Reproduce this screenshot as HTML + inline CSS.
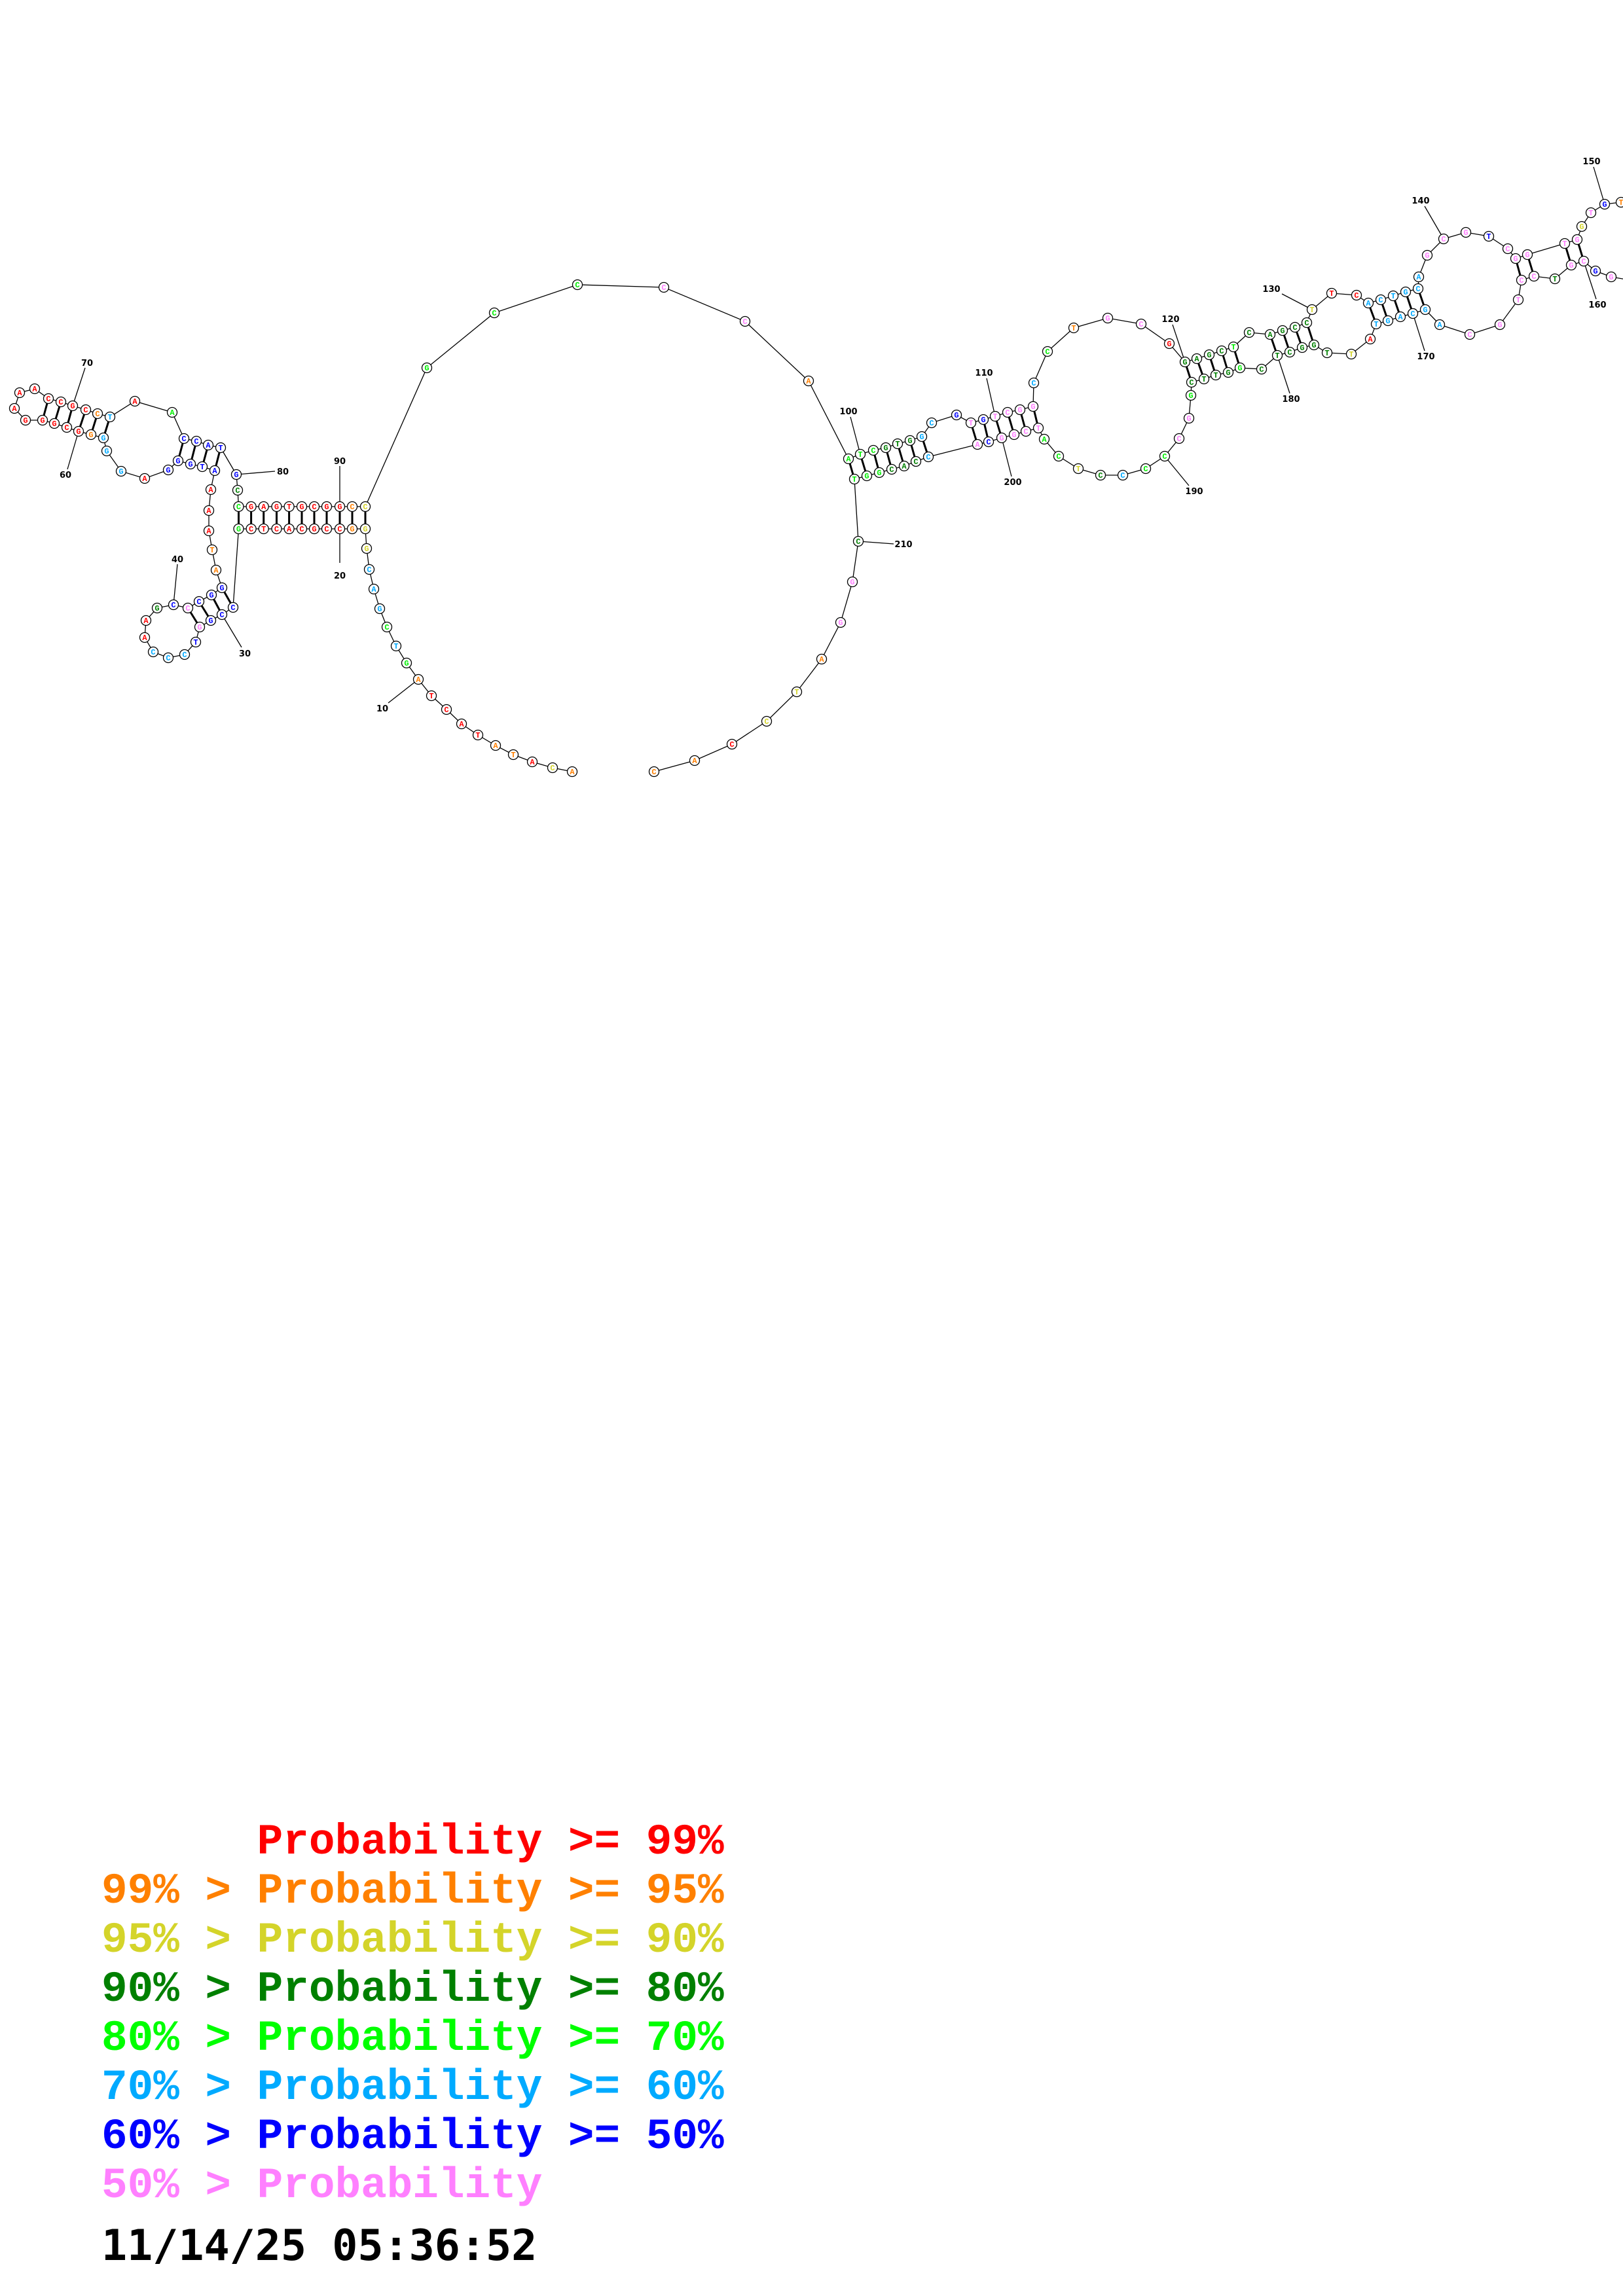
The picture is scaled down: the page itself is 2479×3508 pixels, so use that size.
<!DOCTYPE html>
<html><head><meta charset="utf-8"><style>
html,body{margin:0;padding:0;background:#fff;}
svg{display:block;}
.n circle{fill:#fff;stroke:#000;stroke-width:1.3;}
.n text{font-family:"Liberation Mono",monospace;font-weight:bold;font-size:12px;text-anchor:middle;}
.r{fill:#ff0000}.o{fill:#ff8000}.y{fill:#d4d42a}.d{fill:#008000}.g{fill:#00ee00}.c{fill:#00aaff}.b{fill:#0000ff}.p{fill:#ff80ff}
.lb{font-family:"DejaVu Sans",sans-serif;font-weight:bold;font-size:13px;text-anchor:middle;fill:#000;}
.lg{font-family:"Liberation Mono",monospace;font-weight:bold;font-size:66px;}
</style></head><body>
<svg width="2479" height="3508" viewBox="0 0 2479 3508" xmlns="http://www.w3.org/2000/svg">
<g fill="none" stroke="#000" stroke-width="1.3">
<polyline points="874,1179 844,1173 813,1164 784,1153 757,1139 730,1123 705,1106 682,1084 659,1063 639,1038 621,1013 605,987 591,958 580,930 571,900 564,870 560,838 558,808 538,808 519,808 499,808 480,808 461,808 441.6,808 422.5,808 402.7,808 383.6,808 364.5,808 356,928 339,939 322,948 305,958 299,981 282,1000 257,1005 234,996 221,974 223,948 240,929 265,924 287,929 304,919 323,909 339,898 330,871 324,840 319,811 319,780 322,748 328,719 309,713 291,709 272,704 257,718 221,731 185,720 163,689 158,669 139,664 120,659 102,653 83,647 65,642 39,642 22,624 30,600 53,594 74,609 93,614 111,620 131,626 149,632 168,637 206,613 263,630 281,670 300,674 318,680 337,684 361,725 363,749 364.5,774 383.6,774 402.7,774 422.5,774 441.6,774 461,774 480,774 499,774 519,774 538,774 558,774 652,562 755,478 882,435 1014,439 1138,491 1235,582 1296,701 1314,694 1334,688 1353,684 1371,678 1390,673 1408,667 1423,646 1461,634 1483,646 1502,641 1520,636 1539,630 1558,626 1578,621 1579,585 1600,537 1640,501 1692,486 1743,495 1786,525 1810,553 1828,548 1847,542 1866,536 1884,530 1908,508 1940,511 1959,505 1978,500 1996,493 2004,473 2034,448 2072,451 2090,463 2109,458 2128,452 2147,446 2166,441 2167,423 2180,390 2205,365 2239,355 2274,361 2303,380 2315,395 2333,389 2390,372 2409,366 2416,346 2430,325 2451,312 2476,309 2490,308"/>
<polyline points="2490,428 2461,423 2437,414 2419,399 2400,405 2375,426 2343,422 2324,428 2319,458 2291,496 2245,511 2199,496 2177,473 2158,479 2139,484 2120,490 2102,495 2093,518 2064,541 2027,539 2007,527 1989,531 1970,538 1951,543 1927,564 1894,562 1876,569 1857,573 1839,579 1820,584 1819,604 1816,639 1801,670 1779,697 1750,716 1715,726 1681,726 1647,716 1617,697 1595,671 1586,654 1567,659 1549,664 1530,669 1510,675 1493,679 1418,698 1399,705 1381,712 1362,717 1343,722 1324,727 1305,732 1311,827 1302,889 1284,951 1255,1007 1217,1057 1171,1102 1118,1137 1061,1162 999,1179"/>
<!-- number label lines -->
<path d="M639,1038L593,1074M519,808L519,860M339,939L369,989M265,924L271,862M120,659L103,717M111,620L130,562M361,725L420,720M519,774L519,712M1314,694L1299,637M1520,636L1507,578M1810,553L1791,496M2004,473L1958,449M2205,365L2176,315M2451,312L2434,255M2419,399L2438,457M2158,479L2176,536M1951,543L1970,601M1779,697L1816,742M1530,669L1545,728M1311,827L1365,831"/>
</g>
<g stroke="#000" stroke-width="3">
<path d="M558,808L558,774M538,808L538,774M519,808L519,774M499,808L499,774M480,808L480,774M461,808L461,774M441.6,808L441.6,774M422.5,808L422.5,774M402.7,808L402.7,774M383.6,808L383.6,774M364.5,808L364.5,774"/>
<path d="M339,898L356,928M323,909L339,939M304,919L322,948M287,929L305,958"/>
<path d="M328,719L337,684M309,713L318,680M291,709L300,674M272,704L281,670"/>
<path d="M74,609L65,642M93,614L83,647M111,620L102,653M131,626L120,659M149,632L139,664M168,637L158,669"/>
<path d="M1296,701L1305,732M1314,694L1324,727M1334,688L1343,722M1353,684L1362,717M1371,678L1381,712M1390,673L1399,705M1408,667L1418,698"/>
<path d="M1483,646L1493,679M1502,641L1510,675M1520,636L1530,669M1539,630L1549,664M1558,626L1567,659M1578,621L1586,654"/>
<path d="M1810,553L1820,584M1828,548L1839,579M1847,542L1857,573M1866,536L1876,569M1884,530L1894,562"/>
<path d="M1940,511L1951,543M1959,505L1970,538M1978,500L1989,531M1996,493L2007,527"/>
<path d="M2090,463L2102,495M2109,458L2120,490M2128,452L2139,484M2147,446L2158,479M2166,441L2177,473"/>
<path d="M2315,395L2324,428M2333,389L2343,422M2390,372L2400,405M2409,366L2419,399"/>
</g>
<g class="n">
<circle cx="874" cy="1179" r="7.5"/><text x="874" y="1183" class="o">A</text>
<circle cx="844" cy="1173" r="7.5"/><text x="844" y="1177" class="y">C</text>
<circle cx="813" cy="1164" r="7.5"/><text x="813" y="1168" class="r">A</text>
<circle cx="784" cy="1153" r="7.5"/><text x="784" y="1157" class="o">T</text>
<circle cx="757" cy="1139" r="7.5"/><text x="757" y="1143" class="o">A</text>
<circle cx="730" cy="1123" r="7.5"/><text x="730" y="1127" class="r">T</text>
<circle cx="705" cy="1106" r="7.5"/><text x="705" y="1110" class="r">A</text>
<circle cx="682" cy="1084" r="7.5"/><text x="682" y="1088" class="r">C</text>
<circle cx="659" cy="1063" r="7.5"/><text x="659" y="1067" class="r">T</text>
<circle cx="639" cy="1038" r="7.5"/><text x="639" y="1042" class="o">A</text>
<circle cx="621" cy="1013" r="7.5"/><text x="621" y="1017" class="g">G</text>
<circle cx="605" cy="987" r="7.5"/><text x="605" y="991" class="c">T</text>
<circle cx="591" cy="958" r="7.5"/><text x="591" y="962" class="g">C</text>
<circle cx="580" cy="930" r="7.5"/><text x="580" y="934" class="c">G</text>
<circle cx="571" cy="900" r="7.5"/><text x="571" y="904" class="c">A</text>
<circle cx="564" cy="870" r="7.5"/><text x="564" y="874" class="c">C</text>
<circle cx="560" cy="838" r="7.5"/><text x="560" y="842" class="y">G</text>
<circle cx="558" cy="808" r="7.5"/><text x="558" y="812" class="y">G</text>
<circle cx="538" cy="808" r="7.5"/><text x="538" y="812" class="o">G</text>
<circle cx="519" cy="808" r="7.5"/><text x="519" y="812" class="r">C</text>
<circle cx="499" cy="808" r="7.5"/><text x="499" y="812" class="r">C</text>
<circle cx="480" cy="808" r="7.5"/><text x="480" y="812" class="r">G</text>
<circle cx="461" cy="808" r="7.5"/><text x="461" y="812" class="r">C</text>
<circle cx="441.6" cy="808" r="7.5"/><text x="441.6" y="812" class="r">A</text>
<circle cx="422.5" cy="808" r="7.5"/><text x="422.5" y="812" class="r">C</text>
<circle cx="402.7" cy="808" r="7.5"/><text x="402.7" y="812" class="r">T</text>
<circle cx="383.6" cy="808" r="7.5"/><text x="383.6" y="812" class="r">C</text>
<circle cx="364.5" cy="808" r="7.5"/><text x="364.5" y="812" class="g">G</text>
<circle cx="356" cy="928" r="7.5"/><text x="356" y="932" class="b">C</text>
<circle cx="339" cy="939" r="7.5"/><text x="339" y="943" class="b">C</text>
<circle cx="322" cy="948" r="7.5"/><text x="322" y="952" class="b">G</text>
<circle cx="305" cy="958" r="7.5"/><text x="305" y="962" class="p">G</text>
<circle cx="299" cy="981" r="7.5"/><text x="299" y="985" class="b">T</text>
<circle cx="282" cy="1000" r="7.5"/><text x="282" y="1004" class="c">C</text>
<circle cx="257" cy="1005" r="7.5"/><text x="257" y="1009" class="c">C</text>
<circle cx="234" cy="996" r="7.5"/><text x="234" y="1000" class="c">C</text>
<circle cx="221" cy="974" r="7.5"/><text x="221" y="978" class="r">A</text>
<circle cx="223" cy="948" r="7.5"/><text x="223" y="952" class="r">A</text>
<circle cx="240" cy="929" r="7.5"/><text x="240" y="933" class="d">G</text>
<circle cx="265" cy="924" r="7.5"/><text x="265" y="928" class="b">C</text>
<circle cx="287" cy="929" r="7.5"/><text x="287" y="933" class="p">C</text>
<circle cx="304" cy="919" r="7.5"/><text x="304" y="923" class="b">C</text>
<circle cx="323" cy="909" r="7.5"/><text x="323" y="913" class="b">G</text>
<circle cx="339" cy="898" r="7.5"/><text x="339" y="902" class="b">G</text>
<circle cx="330" cy="871" r="7.5"/><text x="330" y="875" class="o">A</text>
<circle cx="324" cy="840" r="7.5"/><text x="324" y="844" class="o">T</text>
<circle cx="319" cy="811" r="7.5"/><text x="319" y="815" class="r">A</text>
<circle cx="319" cy="780" r="7.5"/><text x="319" y="784" class="r">A</text>
<circle cx="322" cy="748" r="7.5"/><text x="322" y="752" class="r">A</text>
<circle cx="328" cy="719" r="7.5"/><text x="328" y="723" class="b">A</text>
<circle cx="309" cy="713" r="7.5"/><text x="309" y="717" class="b">T</text>
<circle cx="291" cy="709" r="7.5"/><text x="291" y="713" class="b">G</text>
<circle cx="272" cy="704" r="7.5"/><text x="272" y="708" class="b">G</text>
<circle cx="257" cy="718" r="7.5"/><text x="257" y="722" class="b">G</text>
<circle cx="221" cy="731" r="7.5"/><text x="221" y="735" class="r">A</text>
<circle cx="185" cy="720" r="7.5"/><text x="185" y="724" class="c">G</text>
<circle cx="163" cy="689" r="7.5"/><text x="163" y="693" class="c">G</text>
<circle cx="158" cy="669" r="7.5"/><text x="158" y="673" class="c">G</text>
<circle cx="139" cy="664" r="7.5"/><text x="139" y="668" class="o">G</text>
<circle cx="120" cy="659" r="7.5"/><text x="120" y="663" class="r">G</text>
<circle cx="102" cy="653" r="7.5"/><text x="102" y="657" class="r">C</text>
<circle cx="83" cy="647" r="7.5"/><text x="83" y="651" class="r">G</text>
<circle cx="65" cy="642" r="7.5"/><text x="65" y="646" class="r">G</text>
<circle cx="39" cy="642" r="7.5"/><text x="39" y="646" class="r">G</text>
<circle cx="22" cy="624" r="7.5"/><text x="22" y="628" class="r">A</text>
<circle cx="30" cy="600" r="7.5"/><text x="30" y="604" class="r">A</text>
<circle cx="53" cy="594" r="7.5"/><text x="53" y="598" class="r">A</text>
<circle cx="74" cy="609" r="7.5"/><text x="74" y="613" class="r">C</text>
<circle cx="93" cy="614" r="7.5"/><text x="93" y="618" class="r">C</text>
<circle cx="111" cy="620" r="7.5"/><text x="111" y="624" class="r">G</text>
<circle cx="131" cy="626" r="7.5"/><text x="131" y="630" class="r">C</text>
<circle cx="149" cy="632" r="7.5"/><text x="149" y="636" class="o">C</text>
<circle cx="168" cy="637" r="7.5"/><text x="168" y="641" class="c">T</text>
<circle cx="206" cy="613" r="7.5"/><text x="206" y="617" class="r">A</text>
<circle cx="263" cy="630" r="7.5"/><text x="263" y="634" class="g">A</text>
<circle cx="281" cy="670" r="7.5"/><text x="281" y="674" class="b">C</text>
<circle cx="300" cy="674" r="7.5"/><text x="300" y="678" class="b">C</text>
<circle cx="318" cy="680" r="7.5"/><text x="318" y="684" class="b">A</text>
<circle cx="337" cy="684" r="7.5"/><text x="337" y="688" class="b">T</text>
<circle cx="361" cy="725" r="7.5"/><text x="361" y="729" class="b">G</text>
<circle cx="363" cy="749" r="7.5"/><text x="363" y="753" class="d">C</text>
<circle cx="364.5" cy="774" r="7.5"/><text x="364.5" y="778" class="g">C</text>
<circle cx="383.6" cy="774" r="7.5"/><text x="383.6" y="778" class="r">G</text>
<circle cx="402.7" cy="774" r="7.5"/><text x="402.7" y="778" class="r">A</text>
<circle cx="422.5" cy="774" r="7.5"/><text x="422.5" y="778" class="r">G</text>
<circle cx="441.6" cy="774" r="7.5"/><text x="441.6" y="778" class="r">T</text>
<circle cx="461" cy="774" r="7.5"/><text x="461" y="778" class="r">G</text>
<circle cx="480" cy="774" r="7.5"/><text x="480" y="778" class="r">C</text>
<circle cx="499" cy="774" r="7.5"/><text x="499" y="778" class="r">G</text>
<circle cx="519" cy="774" r="7.5"/><text x="519" y="778" class="r">G</text>
<circle cx="538" cy="774" r="7.5"/><text x="538" y="778" class="o">C</text>
<circle cx="558" cy="774" r="7.5"/><text x="558" y="778" class="y">C</text>
<circle cx="652" cy="562" r="7.5"/><text x="652" y="566" class="g">G</text>
<circle cx="755" cy="478" r="7.5"/><text x="755" y="482" class="g">C</text>
<circle cx="882" cy="435" r="7.5"/><text x="882" y="439" class="g">C</text>
<circle cx="1014" cy="439" r="7.5"/><text x="1014" y="443" class="p">C</text>
<circle cx="1138" cy="491" r="7.5"/><text x="1138" y="495" class="p">C</text>
<circle cx="1235" cy="582" r="7.5"/><text x="1235" y="586" class="o">A</text>
<circle cx="1296" cy="701" r="7.5"/><text x="1296" y="705" class="g">A</text>
<circle cx="1314" cy="694" r="7.5"/><text x="1314" y="698" class="g">T</text>
<circle cx="1334" cy="688" r="7.5"/><text x="1334" y="692" class="g">C</text>
<circle cx="1353" cy="684" r="7.5"/><text x="1353" y="688" class="d">G</text>
<circle cx="1371" cy="678" r="7.5"/><text x="1371" y="682" class="d">T</text>
<circle cx="1390" cy="673" r="7.5"/><text x="1390" y="677" class="d">G</text>
<circle cx="1408" cy="667" r="7.5"/><text x="1408" y="671" class="c">G</text>
<circle cx="1423" cy="646" r="7.5"/><text x="1423" y="650" class="c">C</text>
<circle cx="1461" cy="634" r="7.5"/><text x="1461" y="638" class="b">G</text>
<circle cx="1483" cy="646" r="7.5"/><text x="1483" y="650" class="p">T</text>
<circle cx="1502" cy="641" r="7.5"/><text x="1502" y="645" class="b">G</text>
<circle cx="1520" cy="636" r="7.5"/><text x="1520" y="640" class="p">T</text>
<circle cx="1539" cy="630" r="7.5"/><text x="1539" y="634" class="p">C</text>
<circle cx="1558" cy="626" r="7.5"/><text x="1558" y="630" class="p">G</text>
<circle cx="1578" cy="621" r="7.5"/><text x="1578" y="625" class="p">G</text>
<circle cx="1579" cy="585" r="7.5"/><text x="1579" y="589" class="c">C</text>
<circle cx="1600" cy="537" r="7.5"/><text x="1600" y="541" class="g">C</text>
<circle cx="1640" cy="501" r="7.5"/><text x="1640" y="505" class="o">T</text>
<circle cx="1692" cy="486" r="7.5"/><text x="1692" y="490" class="p">G</text>
<circle cx="1743" cy="495" r="7.5"/><text x="1743" y="499" class="p">C</text>
<circle cx="1786" cy="525" r="7.5"/><text x="1786" y="529" class="r">G</text>
<circle cx="1810" cy="553" r="7.5"/><text x="1810" y="557" class="d">G</text>
<circle cx="1828" cy="548" r="7.5"/><text x="1828" y="552" class="d">A</text>
<circle cx="1847" cy="542" r="7.5"/><text x="1847" y="546" class="d">G</text>
<circle cx="1866" cy="536" r="7.5"/><text x="1866" y="540" class="d">C</text>
<circle cx="1884" cy="530" r="7.5"/><text x="1884" y="534" class="g">T</text>
<circle cx="1908" cy="508" r="7.5"/><text x="1908" y="512" class="d">C</text>
<circle cx="1940" cy="511" r="7.5"/><text x="1940" y="515" class="d">A</text>
<circle cx="1959" cy="505" r="7.5"/><text x="1959" y="509" class="d">G</text>
<circle cx="1978" cy="500" r="7.5"/><text x="1978" y="504" class="d">C</text>
<circle cx="1996" cy="493" r="7.5"/><text x="1996" y="497" class="d">C</text>
<circle cx="2004" cy="473" r="7.5"/><text x="2004" y="477" class="y">T</text>
<circle cx="2034" cy="448" r="7.5"/><text x="2034" y="452" class="r">T</text>
<circle cx="2072" cy="451" r="7.5"/><text x="2072" y="455" class="r">C</text>
<circle cx="2090" cy="463" r="7.5"/><text x="2090" y="467" class="c">A</text>
<circle cx="2109" cy="458" r="7.5"/><text x="2109" y="462" class="c">C</text>
<circle cx="2128" cy="452" r="7.5"/><text x="2128" y="456" class="c">T</text>
<circle cx="2147" cy="446" r="7.5"/><text x="2147" y="450" class="c">G</text>
<circle cx="2166" cy="441" r="7.5"/><text x="2166" y="445" class="c">C</text>
<circle cx="2167" cy="423" r="7.5"/><text x="2167" y="427" class="c">A</text>
<circle cx="2180" cy="390" r="7.5"/><text x="2180" y="394" class="p">G</text>
<circle cx="2205" cy="365" r="7.5"/><text x="2205" y="369" class="p">C</text>
<circle cx="2239" cy="355" r="7.5"/><text x="2239" y="359" class="p">G</text>
<circle cx="2274" cy="361" r="7.5"/><text x="2274" y="365" class="b">T</text>
<circle cx="2303" cy="380" r="7.5"/><text x="2303" y="384" class="p">C</text>
<circle cx="2315" cy="395" r="7.5"/><text x="2315" y="399" class="p">G</text>
<circle cx="2333" cy="389" r="7.5"/><text x="2333" y="393" class="p">G</text>
<circle cx="2390" cy="372" r="7.5"/><text x="2390" y="376" class="p">T</text>
<circle cx="2409" cy="366" r="7.5"/><text x="2409" y="370" class="p">G</text>
<circle cx="2416" cy="346" r="7.5"/><text x="2416" y="350" class="y">G</text>
<circle cx="2430" cy="325" r="7.5"/><text x="2430" y="329" class="p">T</text>
<circle cx="2451" cy="312" r="7.5"/><text x="2451" y="316" class="b">G</text>
<circle cx="2476" cy="309" r="7.5"/><text x="2476" y="313" class="o">T</text>
<circle cx="2461" cy="423" r="7.5"/><text x="2461" y="427" class="p">G</text>
<circle cx="2437" cy="414" r="7.5"/><text x="2437" y="418" class="b">G</text>
<circle cx="2419" cy="399" r="7.5"/><text x="2419" y="403" class="p">C</text>
<circle cx="2400" cy="405" r="7.5"/><text x="2400" y="409" class="p">G</text>
<circle cx="2375" cy="426" r="7.5"/><text x="2375" y="430" class="d">T</text>
<circle cx="2343" cy="422" r="7.5"/><text x="2343" y="426" class="p">C</text>
<circle cx="2324" cy="428" r="7.5"/><text x="2324" y="432" class="p">C</text>
<circle cx="2319" cy="458" r="7.5"/><text x="2319" y="462" class="p">T</text>
<circle cx="2291" cy="496" r="7.5"/><text x="2291" y="500" class="p">G</text>
<circle cx="2245" cy="511" r="7.5"/><text x="2245" y="515" class="p">C</text>
<circle cx="2199" cy="496" r="7.5"/><text x="2199" y="500" class="c">A</text>
<circle cx="2177" cy="473" r="7.5"/><text x="2177" y="477" class="c">G</text>
<circle cx="2158" cy="479" r="7.5"/><text x="2158" y="483" class="c">C</text>
<circle cx="2139" cy="484" r="7.5"/><text x="2139" y="488" class="c">A</text>
<circle cx="2120" cy="490" r="7.5"/><text x="2120" y="494" class="c">G</text>
<circle cx="2102" cy="495" r="7.5"/><text x="2102" y="499" class="c">T</text>
<circle cx="2093" cy="518" r="7.5"/><text x="2093" y="522" class="r">A</text>
<circle cx="2064" cy="541" r="7.5"/><text x="2064" y="545" class="y">T</text>
<circle cx="2027" cy="539" r="7.5"/><text x="2027" y="543" class="d">T</text>
<circle cx="2007" cy="527" r="7.5"/><text x="2007" y="531" class="d">G</text>
<circle cx="1989" cy="531" r="7.5"/><text x="1989" y="535" class="d">G</text>
<circle cx="1970" cy="538" r="7.5"/><text x="1970" y="542" class="d">C</text>
<circle cx="1951" cy="543" r="7.5"/><text x="1951" y="547" class="d">T</text>
<circle cx="1927" cy="564" r="7.5"/><text x="1927" y="568" class="d">C</text>
<circle cx="1894" cy="562" r="7.5"/><text x="1894" y="566" class="g">G</text>
<circle cx="1876" cy="569" r="7.5"/><text x="1876" y="573" class="d">G</text>
<circle cx="1857" cy="573" r="7.5"/><text x="1857" y="577" class="d">T</text>
<circle cx="1839" cy="579" r="7.5"/><text x="1839" y="583" class="d">T</text>
<circle cx="1820" cy="584" r="7.5"/><text x="1820" y="588" class="d">C</text>
<circle cx="1819" cy="604" r="7.5"/><text x="1819" y="608" class="g">G</text>
<circle cx="1816" cy="639" r="7.5"/><text x="1816" y="643" class="p">G</text>
<circle cx="1801" cy="670" r="7.5"/><text x="1801" y="674" class="p">C</text>
<circle cx="1779" cy="697" r="7.5"/><text x="1779" y="701" class="g">C</text>
<circle cx="1750" cy="716" r="7.5"/><text x="1750" y="720" class="g">C</text>
<circle cx="1715" cy="726" r="7.5"/><text x="1715" y="730" class="c">C</text>
<circle cx="1681" cy="726" r="7.5"/><text x="1681" y="730" class="d">C</text>
<circle cx="1647" cy="716" r="7.5"/><text x="1647" y="720" class="y">T</text>
<circle cx="1617" cy="697" r="7.5"/><text x="1617" y="701" class="g">C</text>
<circle cx="1595" cy="671" r="7.5"/><text x="1595" y="675" class="g">A</text>
<circle cx="1586" cy="654" r="7.5"/><text x="1586" y="658" class="p">T</text>
<circle cx="1567" cy="659" r="7.5"/><text x="1567" y="663" class="p">C</text>
<circle cx="1549" cy="664" r="7.5"/><text x="1549" y="668" class="p">G</text>
<circle cx="1530" cy="669" r="7.5"/><text x="1530" y="673" class="p">G</text>
<circle cx="1510" cy="675" r="7.5"/><text x="1510" y="679" class="b">C</text>
<circle cx="1493" cy="679" r="7.5"/><text x="1493" y="683" class="p">A</text>
<circle cx="1418" cy="698" r="7.5"/><text x="1418" y="702" class="c">C</text>
<circle cx="1399" cy="705" r="7.5"/><text x="1399" y="709" class="d">C</text>
<circle cx="1381" cy="712" r="7.5"/><text x="1381" y="716" class="d">A</text>
<circle cx="1362" cy="717" r="7.5"/><text x="1362" y="721" class="d">C</text>
<circle cx="1343" cy="722" r="7.5"/><text x="1343" y="726" class="g">G</text>
<circle cx="1324" cy="727" r="7.5"/><text x="1324" y="731" class="g">G</text>
<circle cx="1305" cy="732" r="7.5"/><text x="1305" y="736" class="g">T</text>
<circle cx="1311" cy="827" r="7.5"/><text x="1311" y="831" class="d">C</text>
<circle cx="1302" cy="889" r="7.5"/><text x="1302" y="893" class="p">G</text>
<circle cx="1284" cy="951" r="7.5"/><text x="1284" y="955" class="p">G</text>
<circle cx="1255" cy="1007" r="7.5"/><text x="1255" y="1011" class="o">A</text>
<circle cx="1217" cy="1057" r="7.5"/><text x="1217" y="1061" class="y">T</text>
<circle cx="1171" cy="1102" r="7.5"/><text x="1171" y="1106" class="y">C</text>
<circle cx="1118" cy="1137" r="7.5"/><text x="1118" y="1141" class="r">C</text>
<circle cx="1061" cy="1162" r="7.5"/><text x="1061" y="1166" class="o">A</text>
<circle cx="999" cy="1179" r="7.5"/><text x="999" y="1183" class="o">C</text>
</g>
<g class="lb">
<text x="584" y="1087">10</text>
<text x="519" y="884">20</text>
<text x="374" y="1003">30</text>
<text x="271" y="859">40</text>
<text x="100" y="730">60</text>
<text x="133" y="559">70</text>
<text x="432" y="725">80</text>
<text x="519" y="709">90</text>
<text x="1296" y="633">100</text>
<text x="1503" y="574">110</text>
<text x="1788" y="492">120</text>
<text x="1942" y="446">130</text>
<text x="2170" y="311">140</text>
<text x="2431" y="251">150</text>
<text x="2440" y="470">160</text>
<text x="2178" y="549">170</text>
<text x="1972" y="614">180</text>
<text x="1824" y="755">190</text>
<text x="1547" y="741">200</text>
<text x="1380" y="836">210</text>
</g>
<g class="lg">
<text x="155" y="2832" xml:space="preserve" fill="#ff0000">      Probability &gt;= 99%</text>
<text x="155" y="2907" xml:space="preserve" fill="#ff8000">99% &gt; Probability &gt;= 95%</text>
<text x="155" y="2982" xml:space="preserve" fill="#d4d42a">95% &gt; Probability &gt;= 90%</text>
<text x="155" y="3057" xml:space="preserve" fill="#008000">90% &gt; Probability &gt;= 80%</text>
<text x="155" y="3132" xml:space="preserve" fill="#00ff00">80% &gt; Probability &gt;= 70%</text>
<text x="155" y="3207" xml:space="preserve" fill="#00aaff">70% &gt; Probability &gt;= 60%</text>
<text x="155" y="3282" xml:space="preserve" fill="#0000ff">60% &gt; Probability &gt;= 50%</text>
<text x="155" y="3357" xml:space="preserve" fill="#ff80ff">50% &gt; Probability</text>
<text x="155" y="3453" xml:space="preserve" fill="#000" style="font-family:'DejaVu Sans Mono',monospace;font-size:65px">11/14/25 05:36:52</text>
</g>
</svg>
</body></html>
